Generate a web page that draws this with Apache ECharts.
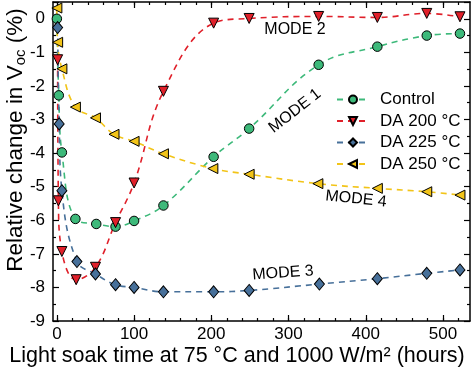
<!DOCTYPE html>
<html><head><meta charset="utf-8">
<script src="https://cdn.jsdelivr.net/npm/echarts@6/dist/echarts.min.js"></script>
<style>html,body{margin:0;padding:0;background:#fff}#c{width:474px;height:371px}</style>
</head><body><div id="c"></div>
<script>
// ---- data ----
const seriesNames = ['Control', 'DA 200 °C', 'DA 225 °C', 'DA 250 °C'];
const controlT = [0, 2.5, 6.5, 24, 51, 76, 100, 138, 203, 249, 339, 415, 479, 522];
const controlV = [0, -2.28, -3.98, -5.96, -6.11, -6.19, -6.02, -5.56, -4.11, -3.27, -1.37, -0.83, -0.50, -0.44];
const da200T = [1, 2, 6.5, 25, 50, 76, 100, 138, 203, 249, 339, 415, 479, 522];
const da200V = [-1.22, -5.42, -6.93, -7.77, -7.40, -6.07, -4.89, -2.16, -0.13, 0.01, 0.07, 0.04, 0.16, 0.06];
const da225T = [1, 3, 6.5, 26, 50, 76, 100, 138, 203, 249, 340, 415, 479, 522];
const da225V = [-0.26, -3.13, -5.12, -7.23, -7.60, -7.92, -8.00, -8.13, -8.13, -8.09, -7.90, -7.74, -7.58, -7.48];
const da250T = [0, 1, 6.5, 24, 50, 74, 100, 138, 202, 249, 338, 415, 479, 522];
const da250V = [0.32, -0.70, -1.49, -2.63, -2.95, -3.44, -3.65, -4.02, -4.46, -4.63, -4.91, -5.05, -5.15, -5.25];
const xTickLabels = [0, 100, 200, 300, 400, 500];
const xMinorTicks = [0, 20, 40, 60, 80, 100, 120, 140, 160, 180, 200, 220, 240, 260, 280, 300, 320, 340, 360, 380, 400, 420, 440, 460, 480, 500, 520];
const yTickLabels = [-9, -8, -7, -6, -5, -4, -3, -2, -1, 0];
const modeLabels = ['MODE 1', 'MODE 2', 'MODE 3', 'MODE 4'];
const xTitle = 'Light soak time at 75 °C and 1000 W/m² (hours)';
const yTitle = ['Relative change in V', 'oc', ' (%)'];

const pair = (t, v) => t.map((x, i) => [x, v[i]]);
const colors = ['#3db97a', '#e0202a', '#47709a', '#f2c418'];
const FONT = 'Liberation Sans, Arial, sans-serif';

const chart = echarts.init(document.getElementById('c'), null, {renderer: 'canvas'});
const xMin = -5, xMax = 535, yMin = -9, yMax = 0.5;

function xAx(pos, ticks, len, showLabel, showLine) {
  return {
    type: 'value', min: xMin, max: xMax, position: pos, gridIndex: 0,
    axisLine: {show: showLine, onZero: false, lineStyle: {color: '#000', width: 1.5}},
    axisTick: {show: true, inside: true, length: len, customValues: ticks, lineStyle: {color: '#000', width: 1.2}},
    axisLabel: {show: showLabel, customValues: xTickLabels, color: '#000', fontSize: 17, fontFamily: FONT, margin: 5},
    splitLine: {show: false}
  };
}
function yAx(pos, showLabel) {
  return {
    type: 'value', min: yMin, max: yMax, interval: 1, position: pos, gridIndex: 0,
    axisLine: {show: true, onZero: false, lineStyle: {color: '#000', width: 1.5}},
    axisTick: {show: true, inside: true, length: 6, lineStyle: {color: '#000', width: 1.2}},
    minorTick: {show: true, splitNumber: 2, length: 3, lineStyle: {color: '#000', width: 1.2}},
    axisLabel: {show: showLabel, color: '#000', fontSize: 17, fontFamily: FONT, margin: 8,
      formatter: v => (yTickLabels.indexOf(v) >= 0 ? String(v) : '')},
    splitLine: {show: false}, minorSplitLine: {show: false}
  };
}

const xAxes = [xAx('bottom', xTickLabels, 6, true, true), xAx('bottom', xMinorTicks, 3, false, false),
  xAx('top', xTickLabels, 6, false, true), xAx('top', xMinorTicks, 3, false, false)];
const yAxes = [yAx('left', true), yAx('right', false)];

function mk(name, data, color, symbol, size, rot) {
  return {
    name, type: 'line', data, xAxisIndex: 0, yAxisIndex: 0,
    smooth: 0.4, symbol, symbolSize: size, symbolRotate: rot, showAllSymbol: true,
    lineStyle: {color, width: 1.6, type: [6, 5]},
    itemStyle: {color, borderColor: '#000', borderWidth: 1},
    z: 3
  };
}
const series = [
  mk(seriesNames[0], pair(controlT, controlV), colors[0], 'circle', 9.5, 0),
  mk(seriesNames[1], pair(da200T, da200V), colors[1], 'triangle', 10, 180),
  mk(seriesNames[2], pair(da225T, da225V), colors[2], 'diamond', [10, 12], 0),
  mk(seriesNames[3], pair(da250T, da250V), colors[3], 'triangle', 10, 90)
];

const txt = (s, x, y, rot) => ({
  type: 'text', x, y, rotation: rot * Math.PI / 180,
  style: {text: s, fill: '#000', font: '16px ' + FONT, align: 'center', verticalAlign: 'middle'}, z: 10
});

chart.setOption({
  animation: false,
  grid: {left: 53, right: 4, top: 2, bottom: 50, containLabel: false, outerBoundsMode: 'none'},
  xAxis: xAxes, yAxis: yAxes, series,
  legend: {
    data: seriesNames, orient: 'vertical', left: 331, top: 86, itemWidth: 32, itemHeight: 10,
    itemGap: 4.5, textStyle: {color: '#000', fontSize: 17, fontFamily: FONT, padding: [0, 0, 0, 6]}
  },
  graphic: [
    txt(modeLabels[0], 295, 111, 38),
    txt(modeLabels[1], 295, 30, 0),
    txt(modeLabels[2], 283, 273, 4),
    txt(modeLabels[3], 356, 199, -6),
    {
      type: 'text', x: 237, y: 356,
      style: {text: xTitle, fill: '#000', font: '21.5px ' + FONT, align: 'center', verticalAlign: 'middle'}
    },
    {
      type: 'text', x: 16, y: 140, rotation: Math.PI / 2,
      style: {
        text: '{a|' + yTitle[0] + '}{s|' + yTitle[1] + '}{a|' + yTitle[2] + '}',
        align: 'center', verticalAlign: 'middle',
        rich: {
          a: {fill: '#000', fontSize: 22.5, fontFamily: FONT},
          s: {fill: '#000', fontSize: 15, fontFamily: FONT, padding: [10, 0, 0, 0]}
        }
      }
    }
  ]
});
</script></body></html>
